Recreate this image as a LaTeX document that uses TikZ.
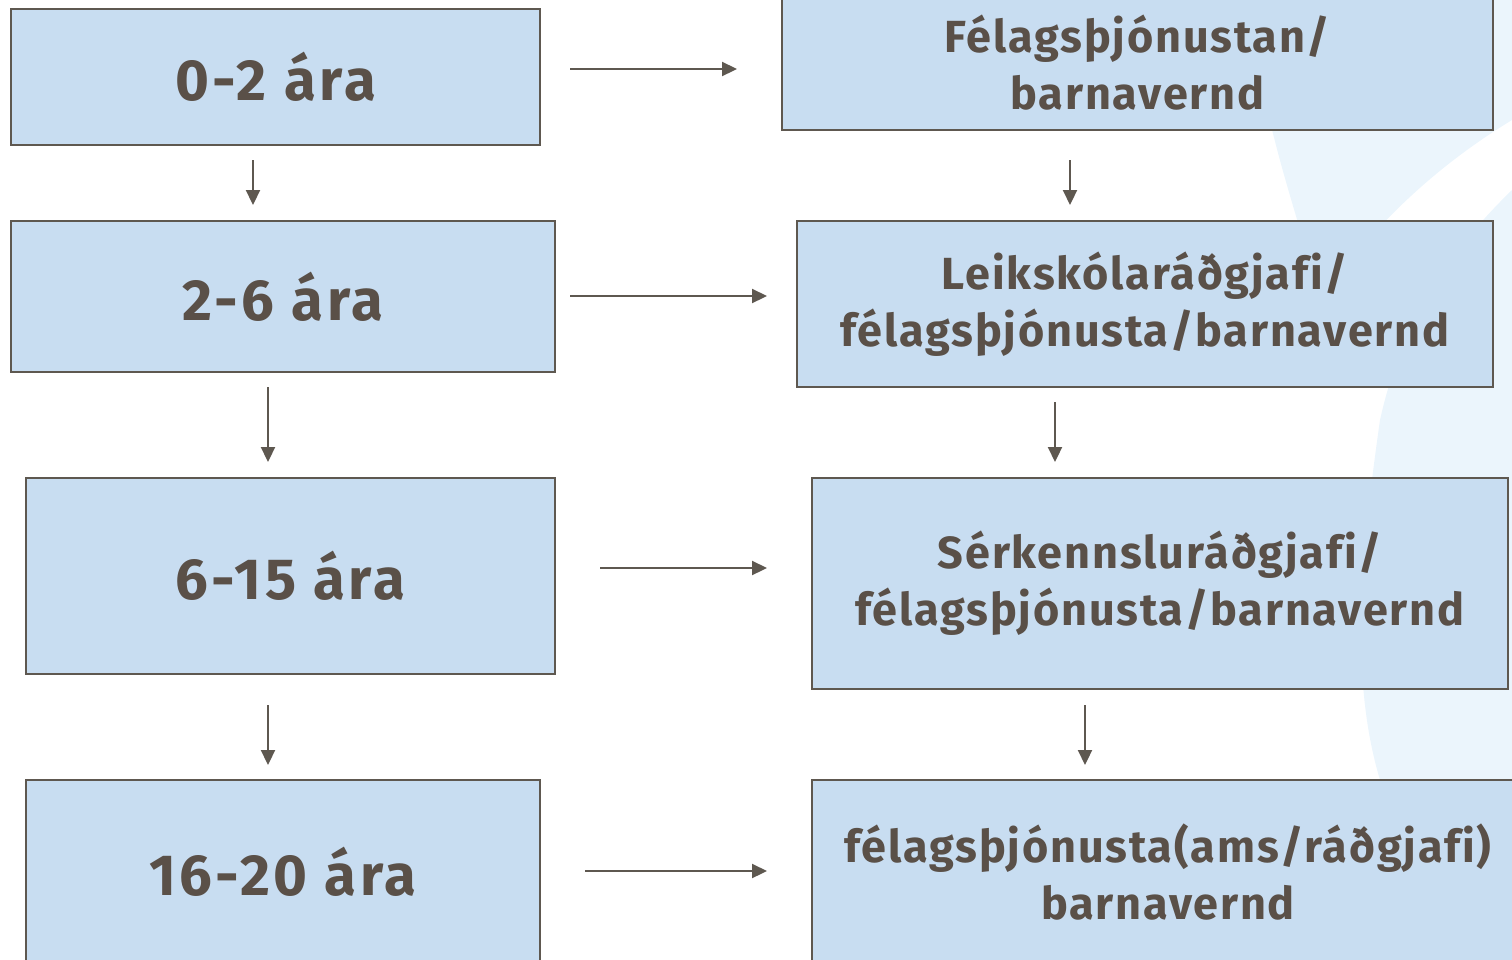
\documentclass[tikz,border=0pt]{standalone}
\usepackage{fontspec}
\setmainfont{Fira Sans}[Ligatures=NoCommon]
\usetikzlibrary{arrows.meta}
\definecolor{boxfill}{HTML}{C8DDF1}
\definecolor{boxline}{HTML}{5E5850}
\definecolor{txt}{HTML}{5A5048}
\definecolor{swoosh}{HTML}{EBF5FC}
\tikzset{
  agebox/.style={draw=boxline, line width=2pt, fill=boxfill, rectangle, inner sep=0pt,
    text=txt, font=\bfseries\fontsize{58}{60}\selectfont\addfontfeature{LetterSpace=6}, align=center},
  helpbox/.style={draw=boxline, line width=2pt, fill=boxfill, rectangle, inner sep=0pt,
    text=txt, font=\bfseries\fontsize{45}{57}\selectfont\addfontfeature{LetterSpace=4}, align=center},
  flow/.style={draw=boxline, line width=2.2pt, -{Triangle[length=15pt,width=14pt]}}
}
\begin{document}
\begin{tikzpicture}[x=1pt,y=-1pt]
\useasboundingbox (0,0) rectangle (1512,959);
\clip (0,0) rectangle (1512,959);
% faint background swoosh
\fill[swoosh] (1250,0) -- (1512,0) -- (1512,120) .. controls (1430,170) and (1370,230) .. (1320,300) .. controls (1300,220) and (1260,120) .. cycle;
\fill[swoosh] (1512,190) .. controls (1440,260) and (1400,330) .. (1380,420) .. controls (1360,560) and (1350,680) .. (1380,780) -- (1512,780) -- cycle;

% left column
\node[agebox, minimum width=529pt, minimum height=136pt] (a1) at (275.5,77) {0-2 ára};
\node[agebox, minimum width=544pt, minimum height=151pt] (a2) at (283,296.5) {2-6 ára};
\node[agebox, minimum width=529pt, minimum height=196pt] (a3) at (290.5,576) {6-15 ára};
\node[agebox, minimum width=514pt, minimum height=184pt] (a4) at (283,872) {16-20 ára};

% right column
\node[helpbox, minimum width=711pt, minimum height=134pt] (h1) at (1137.5,63) {Félagsþjónustan/\\barnavernd};
\node[helpbox, minimum width=696pt, minimum height=166pt] (h2) at (1145,304) {Leikskólaráðgjafi/\\félagsþjónusta/barnavernd};
\node[helpbox, minimum width=696pt, minimum height=211pt] (h3) at (1160,583.5) {Sérkennsluráðgjafi/\\félagsþjónusta/barnavernd};
\node[helpbox, minimum width=712pt, minimum height=184pt] (h4) at (1168,872) {félagsþjónusta(ams/ráðgjafi)\\barnavernd};

% arrow end points
\coordinate (r1s) at (570,69);  \coordinate (r1e) at (737,69);
\coordinate (r2s) at (570,296); \coordinate (r2e) at (767,296);
\coordinate (r3s) at (600,568); \coordinate (r3e) at (767,568);
\coordinate (r4s) at (585,871); \coordinate (r4e) at (767,871);
\coordinate (l1s) at (253,160); \coordinate (l1e) at (253,205);
\coordinate (l2s) at (268,387); \coordinate (l2e) at (268,462);
\coordinate (l3s) at (268,705); \coordinate (l3e) at (268,765);
\coordinate (m1s) at (1070,160); \coordinate (m1e) at (1070,205);
\coordinate (m2s) at (1055,402); \coordinate (m2e) at (1055,462);
\coordinate (m3s) at (1085,705); \coordinate (m3e) at (1085,765);

\foreach \p in {r1,r2,r3,r4,l1,l2,l3,m1,m2,m3}
  \draw[flow] (\p s) -- (\p e);
\end{tikzpicture}
\end{document}
